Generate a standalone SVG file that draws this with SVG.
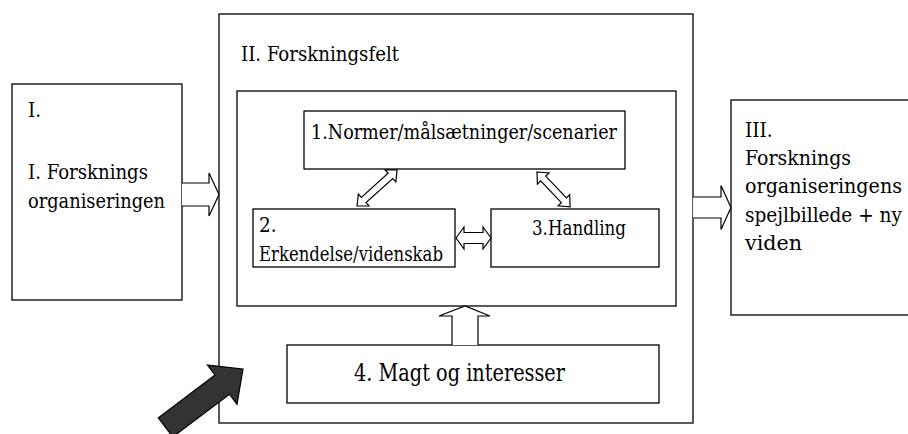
<svg xmlns="http://www.w3.org/2000/svg" width="908" height="434" viewBox="0 0 908 434">
  <style>
    .box { fill: #fff; stroke: #000; stroke-width: 1.3; }
    .hollow { fill: #fff; stroke: #000; stroke-width: 1.2; stroke-linejoin: miter; }
    .dark { fill: #333; stroke: #000; stroke-width: 1.2; }
    .lbl { font-family: "DejaVu Serif Condensed", "DejaVu Serif", serif; font-stretch: condensed; font-size: 20.5px; fill: #000; }
    .big { font-size: 25px; }
  </style>
  <defs>
    <!-- hollow double-headed arrows drawn along +x from the origin -->
    <path id="dbl54" d="M0,0 L9,-8 L9,-3.5 L45,-3.5 L45,-8 L54,0 L45,8 L45,3.5 L9,3.5 L9,8 Z"/>
    <path id="dbl48" d="M0,0 L9,-8 L9,-3.5 L39,-3.5 L39,-8 L48,0 L39,8 L39,3.5 L9,3.5 L9,8 Z"/>
    <path id="dbl35" d="M0,0 L8,-11 L8,-5.5 L27,-5.5 L27,-11 L35,0 L27,11 L27,5.5 L8,5.5 L8,11 Z"/>
  </defs>

  <rect width="908" height="434" fill="#fff"/>

  <!-- I. research organisation -->
  <g id="node-I">
    <rect class="box" x="12" y="84" width="170" height="216"/>
    <text class="lbl" x="28" y="117">I.</text>
    <text class="lbl" x="28" y="179" textLength="120" lengthAdjust="spacingAndGlyphs">I. Forsknings</text>
    <text class="lbl" x="28" y="208" textLength="137" lengthAdjust="spacingAndGlyphs">organiseringen</text>
  </g>

  <!-- II. research field (outer frame) -->
  <g id="node-II">
    <rect class="box" x="219" y="14" width="474" height="409"/>
    <text class="lbl" x="241" y="61" textLength="158" lengthAdjust="spacingAndGlyphs">II. Forskningsfelt</text>
  </g>

  <!-- inner field holding nodes 1-3 -->
  <g id="node-field">
    <rect class="box" x="237" y="91" width="439" height="215"/>
  </g>

  <g id="node-1">
    <rect class="box" x="304" y="111" width="321" height="58"/>
    <text class="lbl" x="311" y="139" textLength="306" lengthAdjust="spacingAndGlyphs">1.Normer/målsætninger/scenarier</text>
  </g>

  <g id="node-2">
    <rect class="box" x="253" y="209" width="202" height="58"/>
    <text class="lbl" x="259" y="232">2.</text>
    <text class="lbl" x="259" y="261" textLength="184" lengthAdjust="spacingAndGlyphs">Erkendelse/videnskab</text>
  </g>

  <g id="node-3">
    <rect class="box" x="491" y="209" width="168" height="58"/>
    <text class="lbl" x="532" y="235" textLength="94" lengthAdjust="spacingAndGlyphs">3.Handling</text>
  </g>

  <g id="node-4">
    <rect class="box" x="287" y="345" width="372" height="58"/>
    <text class="lbl big" x="354" y="381" textLength="211" lengthAdjust="spacingAndGlyphs">4. Magt og interesser</text>
  </g>

  <!-- III. mirror image + new knowledge (runs past the right edge) -->
  <g id="node-III">
    <rect class="box" x="731" y="100" width="200" height="215"/>
    <text class="lbl" x="745" y="137">III.</text>
    <text class="lbl" x="745" y="164.5" textLength="106" lengthAdjust="spacingAndGlyphs">Forsknings</text>
    <text class="lbl" x="745" y="193" textLength="157" lengthAdjust="spacingAndGlyphs">organiseringens</text>
    <text class="lbl" x="745" y="221.5" textLength="157" lengthAdjust="spacingAndGlyphs">spejlbillede + ny</text>
    <text class="lbl" x="745" y="250" textLength="57" lengthAdjust="spacingAndGlyphs">viden</text>
  </g>

  <g id="connectors">
    <!-- I -> II -->
    <path class="hollow" d="M182,183 H209 V173 L219,194.5 L209,216 V206 H182"/>
    <!-- II -> III -->
    <path class="hollow" d="M693,197 H721 V185.5 L731,207.5 L721,229.5 V218 H693"/>
    <!-- 4 -> field -->
    <path class="hollow" d="M452,345 V316 H439 L465,306 L490,316 H478 V345"/>
    <!-- 1 <-> 2, 1 <-> 3, 2 <-> 3 -->
    <use href="#dbl54" class="hollow" transform="translate(357,206) rotate(-42)"/>
    <use href="#dbl48" class="hollow" transform="translate(537,172) rotate(46.4)"/>
    <use href="#dbl35" class="hollow" transform="translate(456,238)"/>
    <!-- external pressure arrow -->
    <path class="dark" transform="translate(243,369) rotate(-37)" d="M0,0 L-26,-24.5 L-26,-12 L-97,-12 L-97,12 L-26,12 L-26,24.5 Z"/>
  </g>
</svg>
